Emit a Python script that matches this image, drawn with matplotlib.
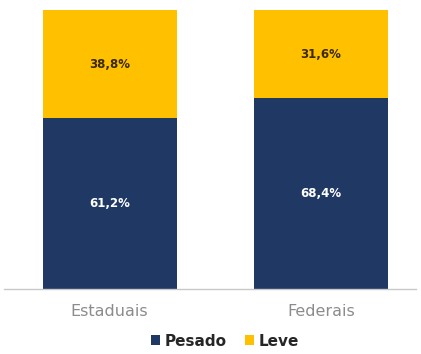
import matplotlib.pyplot as plt

categories = ['Estaduais', 'Federais']
pesado = [61.2, 68.4]
leve = [38.8, 31.6]
pesado_labels = ['61,2%', '68,4%']
leve_labels = ['38,8%', '31,6%']

navy = '#1f3864'
gold = '#ffc000'

fig = plt.figure(figsize=(4.21, 3.54), dpi=100)
ax = fig.add_axes([4 / 421, 65 / 354, 412 / 421, 279 / 354])

x = range(len(categories))
ax.bar(x, pesado, width=0.635, color=navy, label='Pesado')
ax.bar(x, leve, width=0.635, bottom=pesado, color=gold, label='Leve')

for i in x:
    ax.text(i, pesado[i] / 2, pesado_labels[i], ha='center', va='center',
            color='white', fontsize=8.5, fontweight='bold')
    ax.text(i, pesado[i] + leve[i] / 2, leve_labels[i], ha='center', va='center',
            color='#3a2a00', fontsize=8.5, fontweight='bold')

ax.set_xlim(-0.5, 1.45)
ax.set_ylim(0, 100)
ax.set_yticks([])
ax.set_xticks(list(x))
ax.set_xticklabels(categories, fontsize=11.5, color='#8c8c8c')
ax.tick_params(axis='x', length=0, pad=11)
for s in ['top', 'right', 'left']:
    ax.spines[s].set_visible(False)
ax.spines['bottom'].set_color('#c8c8c8')
ax.spines['bottom'].set_linewidth(1)

leg = fig.legend(loc='center', bbox_to_anchor=(0.535, 13 / 354), ncol=2, frameon=False,
                 handlelength=0.6, handleheight=0.6, handletextpad=0.3, columnspacing=1.2,
                 prop={'size': 11, 'weight': 'bold'})
for t in leg.get_texts():
    t.set_color('#262626')

fig.savefig('out.png', dpi=100)
